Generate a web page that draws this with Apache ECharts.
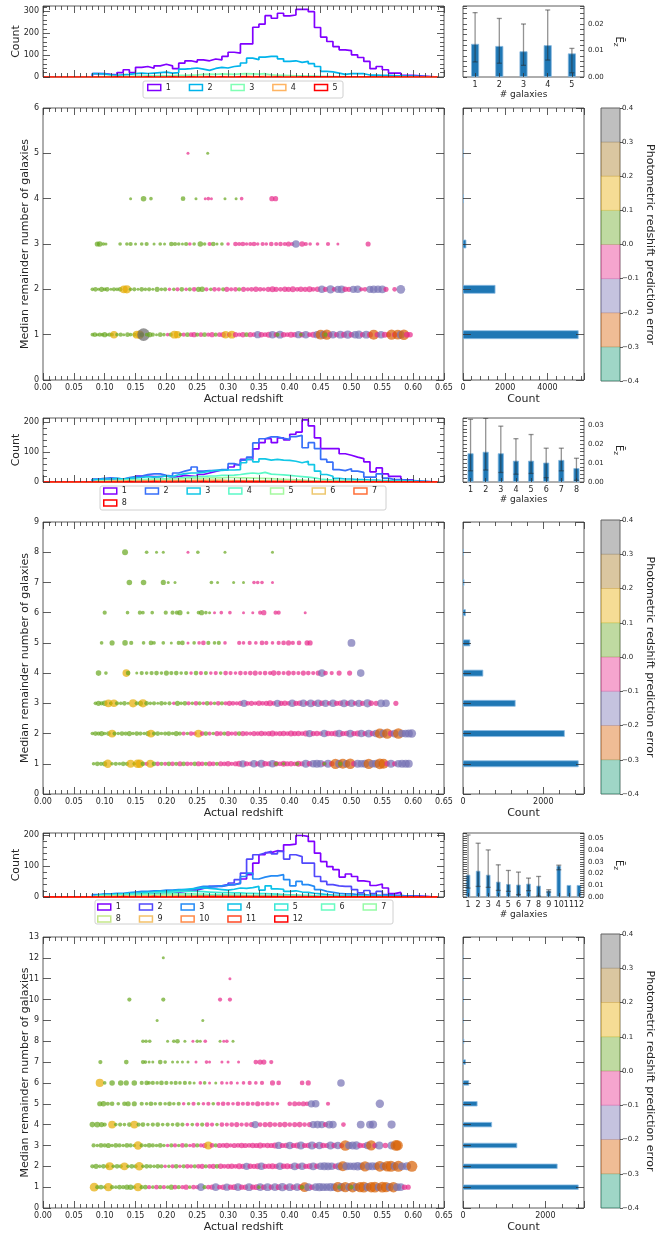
<!DOCTYPE html>
<html>
<head>
<meta charset="utf-8">
<title>Remainder galaxies vs redshift</title>
<script src="https://cdn.jsdelivr.net/npm/echarts@6/dist/echarts.min.js"></script>
<style>
  html, body { margin: 0; padding: 0; background: #fff; }
  #chart { width: 659px; height: 1240px; }
</style>
</head>
<body>
<div id="chart"></div>
<script>
// ---------- data ----------
// histogram bins start at 0.08, width 0.01
const BIN0 = 0.08, BINW = 0.01, HIST_END = 0.64;

// panel 1 : up to 5 galaxies
const p1Colors = ['#8000ff', '#00b4eb', '#80ffb4', '#ffb462', '#ff0000'];
const p1H1 = [15,15,12,10,20,33,20,44,48,40,51,58,51,38,63,74,68,78,74,82,78,94,113,109,151,151,227,241,280,268,291,279,283,309,309,298,226,182,162,139,124,120,101,89,71,38,48,33,18,18,8,8];
const p1H2 = [15,14,10,8,10,12,15,18,16,18,20,22,18,20,36,38,41,36,30,39,44,41,48,51,64,86,79,91,94,94,83,71,74,67,71,61,48,26,23,18,12,15,15,15,9,9,8,8,6,5,4,4];
const p1H3 = [2,2,3,2,3,3,4,4,5,5,6,5,6,7,8,9,10,12,13,12,14,13,12,14,15,14,13,15,10,8,7,6,5,5,4,4,3,3,2,2,2,1,1,1,1,1,0,1];
const p1H4 = [0,0,1,0,0,1,0,1,1,0,1,1,2,1,1,2,1,2,2,1,2,2,1,2,3,2,2,3,2,2,1,2,1,1,1,0,1,1,0,0,1];
const p1H5 = [0,0,0,1,0,0,0,0,1,0,0,0,1,0,0,1,0,0,1,0,1,0,0,1,1,0,1,0,0,1,0,0,0,1];
const p1Ez = [0.0125, 0.0117, 0.0097, 0.0120, 0.0089];
const p1EzLo = [0.0057, 0.0052, 0.0044, 0.0064, 0.0016];
const p1EzHi = [0.0243, 0.0221, 0.0200, 0.0253, 0.0108];
const p1Counts = [5460, 1520, 140, 15, 2];
const p1Row1 = [[0.080,0.03],[0.084,0.05],[0.088,0.02],[0.092,0.04],[0.096,0.03],[0.100,0.06],[0.104,0.02],[0.108,0.04],[0.112,0.03],[0.115,0.13],[0.120,0.03],[0.126,0.04],[0.131,0.02],[0.137,0.05],[0.142,0.03],[0.148,0.04],[0.152,0.14],[0.157,0.16],[0.160,0.05],[0.163,0.36],[0.168,0.03],[0.173,0.06],[0.178,0.04],[0.184,0.02],[0.190,0.05],[0.196,0.03],[0.202,-0.03],[0.207,0.04],[0.213,0.14],[0.218,0.12],[0.223,0.03],[0.228,-0.04],[0.234,0.05],[0.240,-0.05],[0.245,-0.06],[0.250,0.04],[0.256,-0.05],[0.262,0.05],[0.268,-0.04],[0.274,-0.06],[0.280,0.04],[0.286,-0.05],[0.292,-0.07],[0.296,0.13],[0.302,-0.05],[0.306,0.14],[0.312,-0.06],[0.318,-0.04],[0.324,-0.07],[0.330,0.05],[0.336,-0.06],[0.342,-0.05],[0.348,-0.12],[0.354,-0.07],[0.360,-0.05],[0.366,-0.08],[0.372,-0.13],[0.378,-0.06],[0.384,-0.14],[0.390,-0.07],[0.396,-0.05],[0.402,-0.08],[0.408,-0.06],[0.414,-0.12],[0.420,-0.07],[0.426,-0.13],[0.432,-0.05],[0.438,-0.08],[0.444,-0.12],[0.450,-0.22],[0.455,-0.14],[0.460,-0.24],[0.465,-0.07],[0.470,-0.13],[0.476,-0.06],[0.482,-0.14],[0.488,-0.08],[0.494,-0.15],[0.500,-0.07],[0.506,-0.13],[0.512,-0.16],[0.518,-0.06],[0.524,-0.14],[0.530,-0.08],[0.536,-0.23],[0.542,-0.07],[0.548,-0.13],[0.554,-0.08],[0.560,-0.06],[0.565,-0.24],[0.570,-0.07],[0.575,-0.22],[0.580,-0.14],[0.585,-0.25],[0.590,-0.08],[0.595,-0.07],[0.380,0.04],[0.418,0.03],[0.458,0.04]];
const p1Row2 = [[0.080,0.03],[0.085,0.05],[0.090,0.02],[0.095,0.06],[0.100,0.03],[0.104,0.05],[0.110,0.02],[0.115,0.04],[0.120,0.03],[0.125,0.05],[0.131,0.14],[0.136,0.15],[0.142,0.03],[0.148,0.04],[0.154,0.02],[0.160,0.05],[0.166,0.03],[0.172,0.04],[0.178,0.02],[0.185,0.06],[0.192,0.03],[0.198,0.04],[0.205,-0.03],[0.212,0.03],[0.218,-0.04],[0.225,0.05],[0.232,-0.03],[0.238,0.04],[0.245,-0.05],[0.252,0.06],[0.258,0.07],[0.265,-0.04],[0.272,0.03],[0.278,-0.05],[0.285,-0.04],[0.292,0.04],[0.298,-0.06],[0.305,-0.04],[0.312,-0.05],[0.318,0.04],[0.325,-0.06],[0.332,-0.04],[0.338,-0.05],[0.345,-0.07],[0.352,-0.05],[0.358,-0.04],[0.365,-0.06],[0.372,-0.08],[0.378,-0.06],[0.385,-0.05],[0.392,-0.07],[0.398,-0.06],[0.405,-0.08],[0.412,-0.05],[0.418,-0.07],[0.425,-0.06],[0.432,-0.08],[0.438,-0.05],[0.445,-0.07],[0.452,-0.13],[0.458,-0.06],[0.466,-0.16],[0.472,-0.05],[0.478,-0.12],[0.484,-0.14],[0.490,-0.07],[0.496,-0.06],[0.503,-0.12],[0.510,-0.13],[0.516,-0.04],[0.522,-0.05],[0.530,-0.12],[0.536,-0.14],[0.543,-0.13],[0.550,-0.14],[0.556,-0.06],[0.570,-0.05],[0.580,-0.17]];
const p1Row3 = [[0.088,0.06],[0.092,0.07],[0.098,0.03],[0.102,0.02],[0.125,0.03],[0.136,0.03],[0.142,0.04],[0.150,0.02],[0.160,0.03],[0.168,0.04],[0.180,0.02],[0.190,0.03],[0.197,0.02],[0.208,0.05],[0.214,0.04],[0.220,0.03],[0.226,0.02],[0.232,0.04],[0.238,-0.03],[0.245,0.03],[0.255,0.07],[0.262,0.03],[0.270,-0.04],[0.276,0.05],[0.282,0.02],[0.290,0.03],[0.300,-0.03],[0.312,-0.05],[0.318,-0.04],[0.324,-0.05],[0.330,-0.03],[0.336,-0.04],[0.342,-0.05],[0.348,-0.03],[0.356,-0.04],[0.362,-0.03],[0.370,-0.05],[0.378,-0.04],[0.385,-0.05],[0.392,-0.04],[0.398,-0.06],[0.404,-0.04],[0.410,-0.13],[0.420,-0.07],[0.426,-0.04],[0.433,-0.03],[0.445,-0.03],[0.462,-0.04],[0.478,-0.02],[0.527,-0.06]];
const p1Row4 = [[0.142,0.02],[0.163,0.07],[0.175,0.03],[0.227,0.05],[0.248,0.02],[0.263,-0.02],[0.268,-0.03],[0.273,-0.02],[0.295,0.02],[0.313,0.02],[0.322,-0.03],[0.371,-0.06],[0.377,-0.06]];
const p1Row5 = [[0.235,-0.01],[0.267,0.02]];

// panel 2 : up to 8 galaxies
const p2Colors = ['#8000ff', '#376ff9', '#12c7e6', '#5bf9c7', '#a4f99f', '#edc76f', '#ff6f39', '#ff0000'];
const p2H1 = [8,8,8,10,8,10,12,20,20,18,18,20,15,18,22,20,18,25,30,35,40,41,50,58,75,75,110,131,144,131,147,140,159,166,207,187,147,111,111,111,94,89,83,78,67,34,47,27,19,19,7,7];
const p2H2 = [10,12,14,12,10,15,18,20,25,27,27,22,20,30,36,41,50,36,38,38,41,41,61,55,73,83,130,144,150,150,145,142,151,155,114,131,111,75,66,41,38,44,36,32,16,16,27,13,8,8,6,5];
const p2H3 = [8,10,10,12,10,12,14,15,18,16,18,20,18,24,28,30,30,32,36,39,39,40,40,41,64,75,67,77,73,75,73,72,69,64,69,58,36,25,19,12,10,10,8,8,6,6,5,5,4,4,3,3];
const p2H4 = [4,5,5,6,6,7,8,8,9,10,10,11,12,13,15,16,18,18,20,20,22,22,23,25,28,30,28,32,26,25,24,22,20,18,16,14,10,8,6,5,4,4,3,3,2,2,2,1,1,1,1];
const p2H5 = [3,3,4,4,5,5,6,6,7,8,8,9,10,10,11,12,12,13,14,14,14,15,15,14,14,13,12,12,11,10,9,8,7,6,5,4,3,3,2,2,2,1,1,1,1,1];
const p2H6 = [1,1,1,2,2,2,3,3,3,4,4,4,5,5,5,5,6,6,6,6,6,5,5,5,5,4,4,4,3,3,3,2,2,2,1,1,1,1,1];
const p2H7 = [0,0,1,1,1,1,1,2,2,2,2,2,2,3,3,3,3,3,2,2,2,2,2,2,1,1,1,1,1,1,1];
const p2H8 = [0,0,0,0,0,1,0,0,0,1,0,0,0,0,1,0,0,1,0,1,0,0,1];
const p2Ez = [0.0151, 0.0159, 0.0151, 0.0112, 0.0112, 0.0102, 0.0116, 0.0073];
const p2EzLo = [0.0059, 0.0063, 0.0050, 0.0041, 0.0045, 0.0023, 0.0059, 0.0009];
const p2EzHi = [0.0330, 0.0335, 0.0294, 0.0228, 0.0250, 0.0178, 0.0178, 0.0125];
const p2Counts = [2870, 2525, 1300, 495, 170, 60, 25, 10];
const p2Row1 = [[0.082,0.03],[0.088,0.05],[0.094,0.04],[0.100,0.06],[0.105,0.16],[0.112,0.03],[0.118,0.04],[0.124,0.03],[0.130,0.05],[0.136,0.04],[0.142,0.14],[0.148,0.03],[0.153,0.17],[0.157,0.16],[0.162,0.05],[0.168,-0.04],[0.174,0.14],[0.180,0.05],[0.186,-0.05],[0.192,0.04],[0.198,-0.04],[0.204,0.05],[0.210,-0.05],[0.216,0.04],[0.222,-0.06],[0.228,0.05],[0.234,-0.05],[0.240,-0.04],[0.246,0.05],[0.252,-0.06],[0.258,-0.05],[0.264,0.04],[0.270,-0.06],[0.276,-0.05],[0.282,0.04],[0.288,-0.06],[0.294,-0.05],[0.300,-0.07],[0.306,-0.04],[0.312,-0.06],[0.318,-0.08],[0.324,-0.12],[0.330,-0.06],[0.336,-0.05],[0.342,-0.13],[0.348,-0.06],[0.354,-0.14],[0.360,-0.07],[0.366,-0.06],[0.372,-0.13],[0.378,-0.07],[0.384,-0.05],[0.390,-0.08],[0.396,-0.06],[0.402,-0.07],[0.408,-0.05],[0.414,-0.08],[0.420,-0.06],[0.426,-0.14],[0.432,-0.07],[0.438,-0.13],[0.444,-0.15],[0.450,-0.13],[0.456,-0.06],[0.462,-0.14],[0.468,-0.07],[0.474,-0.24],[0.480,-0.14],[0.486,-0.22],[0.492,-0.13],[0.498,-0.25],[0.504,-0.07],[0.510,-0.14],[0.516,-0.13],[0.522,-0.15],[0.528,-0.24],[0.534,-0.13],[0.540,-0.15],[0.546,-0.26],[0.552,-0.23],[0.558,-0.07],[0.564,-0.14],[0.570,-0.06],[0.576,-0.13],[0.582,-0.14],[0.588,-0.15],[0.593,-0.14],[0.378,0.04],[0.390,0.03],[0.412,0.04],[0.456,0.03],[0.482,0.04]];
const p2Row2 = [[0.080,0.03],[0.085,0.05],[0.090,0.04],[0.095,0.06],[0.100,0.03],[0.106,0.05],[0.112,0.14],[0.116,0.04],[0.122,0.03],[0.128,0.05],[0.134,0.04],[0.140,0.06],[0.146,0.03],[0.152,0.05],[0.158,0.04],[0.164,0.03],[0.170,0.06],[0.175,0.14],[0.180,0.04],[0.186,0.05],[0.192,0.03],[0.198,0.04],[0.204,0.05],[0.210,0.03],[0.216,0.06],[0.222,0.04],[0.228,-0.04],[0.234,0.03],[0.240,-0.05],[0.246,-0.04],[0.252,0.14],[0.258,-0.05],[0.264,0.05],[0.270,-0.04],[0.276,0.03],[0.282,-0.06],[0.288,-0.05],[0.294,0.04],[0.300,-0.06],[0.306,-0.04],[0.312,-0.05],[0.318,0.05],[0.324,-0.06],[0.330,-0.05],[0.336,-0.04],[0.342,-0.06],[0.348,-0.05],[0.354,-0.07],[0.360,-0.05],[0.366,-0.06],[0.372,-0.08],[0.378,-0.05],[0.384,-0.06],[0.390,-0.07],[0.396,-0.05],[0.402,-0.08],[0.408,-0.06],[0.414,-0.07],[0.420,-0.05],[0.426,-0.08],[0.432,-0.12],[0.438,-0.06],[0.444,-0.07],[0.450,-0.05],[0.456,-0.13],[0.462,-0.07],[0.468,-0.06],[0.474,-0.08],[0.480,-0.13],[0.486,-0.06],[0.492,-0.07],[0.498,-0.14],[0.504,-0.06],[0.510,-0.08],[0.516,-0.13],[0.522,-0.06],[0.528,-0.14],[0.534,-0.07],[0.540,-0.13],[0.546,-0.23],[0.552,-0.15],[0.558,-0.24],[0.564,-0.08],[0.570,-0.14],[0.576,-0.25],[0.582,-0.13],[0.588,-0.14],[0.593,-0.15],[0.598,-0.16]];
const p2Row3 = [[0.085,0.03],[0.090,0.06],[0.095,0.04],[0.100,0.07],[0.106,0.14],[0.110,0.03],[0.115,0.13],[0.120,0.04],[0.126,0.03],[0.132,0.05],[0.138,0.02],[0.146,0.15],[0.152,0.04],[0.158,0.06],[0.162,0.15],[0.168,0.05],[0.174,0.03],[0.180,0.04],[0.186,0.02],[0.192,0.05],[0.198,0.03],[0.205,0.04],[0.212,-0.03],[0.218,0.06],[0.224,0.03],[0.230,0.05],[0.236,-0.04],[0.242,0.03],[0.248,-0.05],[0.254,0.04],[0.260,-0.03],[0.266,0.05],[0.272,-0.04],[0.278,0.03],[0.284,-0.05],[0.290,0.04],[0.296,-0.04],[0.302,-0.06],[0.308,-0.05],[0.314,-0.04],[0.320,-0.06],[0.326,-0.12],[0.332,-0.05],[0.338,-0.06],[0.344,-0.04],[0.350,-0.07],[0.356,-0.05],[0.362,-0.06],[0.368,-0.08],[0.374,-0.05],[0.380,-0.12],[0.386,-0.06],[0.392,-0.07],[0.398,-0.05],[0.404,-0.13],[0.410,-0.06],[0.416,-0.07],[0.422,-0.13],[0.428,-0.05],[0.434,-0.14],[0.440,-0.06],[0.446,-0.13],[0.452,-0.07],[0.458,-0.12],[0.464,-0.05],[0.470,-0.13],[0.476,-0.06],[0.482,-0.07],[0.488,-0.14],[0.494,-0.06],[0.500,-0.13],[0.506,-0.05],[0.512,-0.12],[0.518,-0.06],[0.526,-0.15],[0.532,-0.07],[0.540,-0.06],[0.548,-0.14],[0.556,-0.13],[0.572,-0.06]];
const p2Row4 = [[0.090,0.07],[0.102,0.03],[0.135,0.13],[0.138,0.05],[0.152,0.02],[0.160,0.04],[0.168,0.03],[0.176,0.04],[0.184,0.05],[0.192,0.03],[0.200,0.06],[0.208,0.04],[0.216,0.05],[0.224,0.03],[0.232,0.04],[0.240,-0.03],[0.248,0.05],[0.256,-0.04],[0.264,0.04],[0.272,-0.03],[0.280,-0.04],[0.288,0.03],[0.296,-0.05],[0.304,-0.04],[0.312,-0.03],[0.320,-0.05],[0.328,-0.04],[0.336,-0.05],[0.344,-0.06],[0.352,-0.04],[0.360,-0.05],[0.368,-0.04],[0.374,-0.07],[0.382,-0.05],[0.390,-0.04],[0.398,-0.06],[0.406,-0.05],[0.414,-0.04],[0.422,-0.06],[0.430,-0.05],[0.438,-0.04],[0.446,-0.06],[0.452,-0.13],[0.458,-0.05],[0.468,-0.04],[0.480,-0.06],[0.497,-0.06],[0.515,-0.13]];
const p2Row5 = [[0.095,0.03],[0.112,0.06],[0.133,0.07],[0.143,0.04],[0.163,0.03],[0.175,0.05],[0.180,0.03],[0.195,0.03],[0.208,0.02],[0.220,0.04],[0.226,0.05],[0.235,-0.02],[0.245,0.03],[0.253,-0.03],[0.260,-0.05],[0.268,0.04],[0.278,0.03],[0.285,0.04],[0.295,-0.03],[0.318,-0.04],[0.325,-0.03],[0.335,-0.04],[0.345,-0.03],[0.355,-0.05],[0.362,-0.04],[0.372,-0.03],[0.382,-0.04],[0.390,-0.05],[0.398,-0.06],[0.405,-0.04],[0.415,-0.05],[0.428,-0.06],[0.433,-0.06],[0.500,-0.14]];
const p2Row6 = [[0.100,0.04],[0.137,0.03],[0.157,0.04],[0.162,0.03],[0.177,0.03],[0.199,0.04],[0.210,0.04],[0.217,0.04],[0.222,0.06],[0.235,0.01],[0.252,0.03],[0.257,0.06],[0.264,0.03],[0.270,0.02],[0.278,-0.02],[0.289,-0.03],[0.303,-0.03],[0.325,-0.02],[0.340,-0.02],[0.352,-0.04],[0.358,-0.06],[0.377,-0.04],[0.382,-0.04],[0.425,-0.01]];
const p2Row7 = [[0.140,0.07],[0.163,0.07],[0.195,0.06],[0.203,0.02],[0.214,0.02],[0.273,0.03],[0.283,0.02],[0.309,0.01],[0.325,0.02],[0.342,-0.03],[0.348,-0.03],[0.355,-0.03],[0.372,-0.02]];
const p2Row8 = [[0.133,0.08],[0.168,0.03],[0.184,0.02],[0.195,0.02],[0.235,-0.02],[0.251,0.03],[0.295,0.01],[0.372,0.01]];

// panel 3 : up to 12 galaxies
const p3Colors = ['#8000ff', '#5148fc', '#238af5', '#0cc1e8', '#3ae8d6', '#68fcc1', '#97fca7', '#c5e88a', '#f3c16a', '#ff8a48', '#ff4824', '#ff0000'];
const p3H1 = [5,6,6,5,7,8,8,10,10,12,12,14,14,15,18,20,22,28,34,34,36,40,40,45,58,72,109,136,143,149,147,168,170,198,195,179,141,114,98,88,64,74,66,52,49,37,42,29,11,15,4,4];
const p3H2 = [6,8,8,9,8,10,10,12,14,14,16,18,18,20,22,24,26,28,32,34,34,38,45,56,77,122,136,141,147,139,147,122,136,130,109,109,66,50,40,36,34,34,24,13,21,11,18,8,6,5,3,3];
const p3H3 = [8,10,10,12,12,14,16,18,18,20,20,22,22,24,24,24,30,34,34,34,36,38,40,43,66,77,58,64,68,68,72,56,36,50,40,34,24,18,15,12,10,10,8,8,6,6,5,5,4,3,2,2];
const p3H4 = [6,8,8,10,10,12,12,14,15,16,18,18,20,22,24,26,28,30,28,26,24,22,25,29,28,30,34,22,36,26,25,18,20,16,15,12,10,8,6,5,4,4,3,3,2,2,2,1,1,1];
const p3H5 = [5,6,6,7,8,9,10,11,12,13,14,15,16,17,18,18,18,17,16,15,14,14,13,13,12,12,11,11,10,9,8,7,6,5,5,4,3,3,2,2,1,1,1,1,1];
const p3H6 = [3,4,4,5,5,6,6,7,8,8,9,9,10,10,10,10,9,9,8,8,7,7,6,6,5,5,5,4,4,3,3,3,2,2,2,1,1,1,1];
const p3H7 = [2,2,3,3,3,4,4,4,5,5,5,6,6,6,6,5,5,5,4,4,4,3,3,3,3,2,2,2,2,1,1,1,1,1];
const p3H8 = [1,1,1,2,2,2,2,3,3,3,3,3,3,2,2,2,2,2,2,1,1,1,1,1,1,1,0,1,0,1];
const p3H9 = [0,1,1,1,1,1,2,1,1,2,2,1,1,1,1,1,1,1,0,1,0,1,0,0,1];
const p3H10 = [0,0,1,0,1,1,0,1,1,1,1,0,1,1,0,1,0,0,1];
const p3H11 = [0,0,0,1,0,0,1,0,0,1,0,0,0,1];
const p3H12 = [0,0,0,0,1,0,0,0,0,1,0,0,0,0,0,0,1];
const p3Ez = [0.0189, 0.0223, 0.0189, 0.0130, 0.0110, 0.0105, 0.0113, 0.0096, 0.0054, 0.0266, 0.0102, 0.0102];
const p3EzLo = [0.0076, 0.0090, 0.0082, 0.0056, 0.0048, 0.0020, 0.0054, 0.0006, 0.0042, 0.0232, null, null];
const p3EzHi = [0.0528, 0.0458, 0.0401, 0.0274, 0.0226, 0.0212, 0.0161, 0.0175, 0.0062, 0.0271, null, null];
const p3Counts = [2800, 2288, 1308, 696, 343, 140, 59, 20, 4, 6, 2, 1];
const p3Row1 = [[0.083,0.18],[0.088,0.04],[0.094,0.05],[0.100,0.03],[0.106,0.15],[0.112,0.04],[0.118,0.03],[0.124,0.05],[0.130,0.04],[0.136,0.06],[0.142,0.07],[0.148,0.03],[0.154,0.15],[0.160,0.04],[0.166,0.05],[0.172,-0.04],[0.178,0.03],[0.184,-0.05],[0.190,0.04],[0.196,-0.04],[0.202,0.03],[0.208,0.06],[0.214,-0.05],[0.220,0.04],[0.226,-0.04],[0.232,-0.06],[0.238,0.03],[0.244,-0.05],[0.250,-0.04],[0.256,-0.13],[0.262,0.04],[0.268,-0.05],[0.274,-0.06],[0.280,-0.13],[0.286,-0.05],[0.292,-0.07],[0.298,-0.12],[0.304,-0.06],[0.310,-0.08],[0.316,-0.13],[0.322,-0.06],[0.328,-0.07],[0.334,-0.14],[0.340,-0.06],[0.346,-0.08],[0.352,-0.13],[0.358,-0.07],[0.364,-0.14],[0.370,-0.06],[0.376,-0.13],[0.382,-0.08],[0.388,-0.15],[0.394,-0.06],[0.400,-0.14],[0.406,-0.07],[0.412,-0.13],[0.418,-0.08],[0.424,-0.22],[0.430,-0.14],[0.436,-0.07],[0.442,-0.13],[0.448,-0.15],[0.454,-0.14],[0.460,-0.13],[0.466,-0.16],[0.472,-0.14],[0.478,-0.23],[0.484,-0.15],[0.490,-0.24],[0.496,-0.13],[0.502,-0.25],[0.508,-0.14],[0.514,-0.24],[0.520,-0.26],[0.526,-0.15],[0.532,-0.25],[0.538,-0.27],[0.544,-0.14],[0.550,-0.26],[0.556,-0.24],[0.562,-0.15],[0.568,-0.25],[0.574,-0.14],[0.580,-0.13],[0.586,-0.07],[0.592,-0.06],[0.350,0.03],[0.420,0.04],[0.480,0.03],[0.500,0.04]];
const p3Row2 = [[0.080,0.04],[0.086,0.06],[0.092,0.03],[0.098,0.05],[0.104,0.04],[0.108,0.15],[0.114,0.03],[0.120,0.05],[0.126,0.04],[0.132,0.14],[0.138,0.03],[0.144,0.05],[0.150,0.04],[0.156,0.16],[0.162,0.03],[0.168,0.05],[0.174,0.04],[0.180,0.03],[0.186,0.05],[0.192,0.04],[0.198,-0.03],[0.204,0.03],[0.210,-0.04],[0.216,0.05],[0.222,-0.03],[0.228,0.04],[0.234,-0.05],[0.240,-0.04],[0.246,0.04],[0.252,-0.05],[0.258,-0.06],[0.264,0.04],[0.270,-0.05],[0.276,-0.06],[0.282,0.05],[0.288,-0.07],[0.294,-0.05],[0.300,-0.06],[0.306,-0.07],[0.312,-0.05],[0.318,-0.08],[0.324,-0.06],[0.330,-0.12],[0.336,-0.07],[0.342,-0.06],[0.348,-0.08],[0.354,-0.13],[0.360,-0.06],[0.366,-0.07],[0.372,-0.08],[0.378,-0.06],[0.384,-0.13],[0.390,-0.07],[0.396,-0.08],[0.402,-0.06],[0.408,-0.14],[0.414,-0.07],[0.420,-0.13],[0.426,-0.06],[0.432,-0.08],[0.438,-0.14],[0.444,-0.07],[0.450,-0.13],[0.456,-0.15],[0.462,-0.14],[0.468,-0.13],[0.474,-0.07],[0.480,-0.14],[0.486,-0.23],[0.492,-0.15],[0.498,-0.13],[0.504,-0.14],[0.510,-0.16],[0.516,-0.13],[0.522,-0.24],[0.528,-0.14],[0.534,-0.15],[0.540,-0.13],[0.546,-0.26],[0.552,-0.14],[0.558,-0.25],[0.564,-0.27],[0.570,-0.15],[0.576,-0.28],[0.582,-0.14],[0.590,-0.15],[0.598,-0.27]];
const p3Row3 = [[0.082,0.04],[0.088,0.03],[0.094,0.05],[0.100,0.04],[0.106,0.06],[0.112,0.03],[0.118,0.05],[0.124,0.04],[0.130,0.03],[0.136,0.05],[0.142,0.04],[0.148,0.03],[0.154,0.16],[0.160,0.04],[0.166,0.03],[0.172,0.05],[0.178,0.04],[0.184,0.03],[0.190,0.05],[0.196,0.03],[0.202,-0.03],[0.208,0.04],[0.214,-0.04],[0.220,0.03],[0.226,-0.05],[0.232,0.04],[0.238,-0.03],[0.244,-0.05],[0.250,0.04],[0.256,-0.04],[0.262,-0.06],[0.268,0.15],[0.274,-0.05],[0.280,0.04],[0.286,-0.06],[0.292,-0.05],[0.298,-0.07],[0.304,-0.04],[0.310,-0.06],[0.316,-0.05],[0.322,-0.07],[0.328,-0.06],[0.334,-0.05],[0.340,-0.07],[0.346,-0.06],[0.352,-0.08],[0.358,-0.05],[0.364,-0.07],[0.370,-0.06],[0.376,-0.08],[0.382,-0.12],[0.388,-0.06],[0.394,-0.07],[0.400,-0.13],[0.406,-0.06],[0.412,-0.08],[0.418,-0.14],[0.424,-0.06],[0.430,-0.07],[0.436,-0.15],[0.442,-0.06],[0.448,-0.13],[0.454,-0.07],[0.460,-0.06],[0.466,-0.14],[0.472,-0.07],[0.478,-0.13],[0.484,-0.06],[0.490,-0.25],[0.496,-0.13],[0.502,-0.14],[0.508,-0.16],[0.514,-0.07],[0.520,-0.06],[0.526,-0.13],[0.532,-0.24],[0.538,-0.06],[0.545,-0.15],[0.555,-0.07],[0.565,-0.14],[0.572,-0.26],[0.575,-0.24]];
const p3Row4 = [[0.080,0.07],[0.088,0.08],[0.095,0.06],[0.100,0.04],[0.112,0.14],[0.118,0.03],[0.125,0.04],[0.132,0.03],[0.140,0.05],[0.148,0.14],[0.155,0.04],[0.162,0.05],[0.170,0.03],[0.178,0.04],[0.186,0.05],[0.194,0.03],[0.202,0.04],[0.210,0.03],[0.218,0.05],[0.226,0.04],[0.234,-0.03],[0.242,0.03],[0.250,-0.04],[0.258,0.04],[0.266,-0.05],[0.274,-0.04],[0.282,0.03],[0.290,-0.05],[0.298,-0.04],[0.306,-0.05],[0.314,-0.06],[0.322,-0.04],[0.330,-0.05],[0.338,-0.06],[0.344,-0.12],[0.352,-0.05],[0.360,-0.06],[0.368,-0.07],[0.376,-0.05],[0.384,-0.06],[0.392,-0.07],[0.400,-0.05],[0.408,-0.06],[0.416,-0.07],[0.424,-0.05],[0.432,-0.06],[0.438,-0.12],[0.445,-0.13],[0.452,-0.12],[0.458,-0.06],[0.464,-0.14],[0.470,-0.13],[0.487,-0.05],[0.515,-0.14],[0.530,-0.14],[0.535,-0.15],[0.565,-0.15]];
const p3Row5 = [[0.092,0.06],[0.098,0.07],[0.105,0.04],[0.112,0.05],[0.122,0.03],[0.132,0.05],[0.138,0.06],[0.148,0.06],[0.160,0.04],[0.168,0.03],[0.175,0.05],[0.182,0.03],[0.190,0.04],[0.198,0.03],[0.205,0.05],[0.212,0.03],[0.220,0.04],[0.228,-0.03],[0.236,0.03],[0.244,-0.04],[0.252,0.03],[0.260,-0.03],[0.268,-0.04],[0.276,0.03],[0.284,-0.04],[0.292,-0.05],[0.300,-0.04],[0.308,-0.03],[0.316,-0.05],[0.324,-0.04],[0.332,-0.05],[0.340,-0.04],[0.348,-0.06],[0.356,-0.04],[0.364,-0.05],[0.372,-0.04],[0.380,-0.03],[0.400,-0.05],[0.408,-0.06],[0.415,-0.05],[0.422,-0.06],[0.428,-0.05],[0.435,-0.12],[0.442,-0.13],[0.462,-0.04],[0.546,-0.16]];
const p3Row6 = [[0.092,0.15],[0.100,0.03],[0.112,0.07],[0.126,0.07],[0.135,0.06],[0.148,0.07],[0.160,0.04],[0.168,0.05],[0.172,0.03],[0.178,0.04],[0.185,0.03],[0.192,0.05],[0.200,0.04],[0.208,0.03],[0.215,0.04],[0.222,0.03],[0.230,0.04],[0.238,0.03],[0.245,0.02],[0.255,-0.03],[0.262,0.03],[0.270,-0.02],[0.280,0.02],[0.290,-0.03],[0.298,-0.02],[0.305,-0.03],[0.315,-0.02],[0.325,-0.03],[0.335,-0.04],[0.345,-0.03],[0.355,-0.04],[0.372,-0.06],[0.382,-0.05],[0.420,-0.05],[0.430,-0.06],[0.483,-0.13]];
const p3Row7 = [[0.093,0.04],[0.135,0.05],[0.162,0.04],[0.166,0.03],[0.172,0.02],[0.178,0.02],[0.190,0.05],[0.198,0.03],[0.210,0.02],[0.218,0.02],[0.226,0.02],[0.235,0.02],[0.248,-0.02],[0.265,-0.03],[0.270,-0.02],[0.290,-0.02],[0.300,-0.02],[0.317,-0.02],[0.345,-0.05],[0.352,-0.06],[0.358,-0.06],[0.370,-0.04]];
const p3Row8 = [[0.162,0.03],[0.167,0.03],[0.173,0.03],[0.202,0.02],[0.212,0.03],[0.218,0.05],[0.230,0.01],[0.243,-0.02],[0.250,0.03],[0.255,0.02],[0.263,-0.03],[0.287,0.02],[0.293,-0.02],[0.298,-0.03],[0.308,0.01]];
const p3Row9 = [[0.185,0.01],[0.259,0.01]];
const p3Row10 = [[0.140,0.04],[0.195,0.04],[0.287,-0.04],[0.303,-0.04]];
const p3Row11 = [[0.303,-0.01]];
const p3Row12 = [[0.195,0.02]];

// colour bar of the prediction error (Dark2, 8 bins of 0.1)
const errEdges = [-0.4, -0.3, -0.2, -0.1, 0.0, 0.1, 0.2, 0.3, 0.4];
const DARK2 = ['#1b9e77', '#d95f02', '#7570b3', '#e7298a', '#66a61e', '#e6ab02', '#a6761d', '#666666'];

// ---------- assemble ----------
const panels = [
  { colors: p1Colors, hist: [p1H1, p1H2, p1H3, p1H4, p1H5], ez: p1Ez, lo: p1EzLo, hi: p1EzHi, counts: p1Counts,
    rows: [p1Row1, p1Row2, p1Row3, p1Row4, p1Row5] },
  { colors: p2Colors, hist: [p2H1, p2H2, p2H3, p2H4, p2H5, p2H6, p2H7, p2H8], ez: p2Ez, lo: p2EzLo, hi: p2EzHi, counts: p2Counts,
    rows: [p2Row1, p2Row2, p2Row3, p2Row4, p2Row5, p2Row6, p2Row7, p2Row8] },
  { colors: p3Colors, hist: [p3H1, p3H2, p3H3, p3H4, p3H5, p3H6, p3H7, p3H8, p3H9, p3H10, p3H11, p3H12], ez: p3Ez, lo: p3EzLo, hi: p3EzHi, counts: p3Counts,
    rows: [p3Row1, p3Row2, p3Row3, p3Row4, p3Row5, p3Row6, p3Row7, p3Row8, p3Row9, p3Row10, p3Row11, p3Row12] }
];

// layout boxes [left, top, width, height] and axis ranges
const LAYOUT = [
  { hist: [43, 6, 401, 71], ez: [463, 6, 121, 71], sc: [43, 108, 401, 272], hb: [463, 108, 121, 272], cb: [601, 108, 19, 273],
    frame: [143, 81, 200, 17], legX: 147, legTop: 82.5, histMax: 324, ezMax: 0.0268, ezBarW: 8, hbMax: 5735, hbH: 8, yMax: 6 },
  { hist: [43, 418, 401, 64], ez: [463, 418, 121, 64], sc: [43, 522, 401, 272], hb: [463, 522, 121, 272], cb: [601, 520, 19, 274],
    frame: [100, 486, 286, 24], legX: 103, legTop: 486, histMax: 213, ezMax: 0.0337, ezBarW: 6, hbMax: 3014, hbH: 6, yMax: 9 },
  { hist: [43, 833, 401, 64], ez: [463, 833, 121, 64], sc: [43, 937, 401, 271], hb: [463, 937, 121, 271], cb: [601, 934, 19, 274],
    frame: [95, 900, 298, 24], legX: 97, legTop: 902, histMax: 206, ezMax: 0.0545, ezBarW: 4.5, hbMax: 2940, hbH: 4.5, yMax: 13 }
];

const FONT = 'DejaVu Sans';
const TXT = '#262626';
const grids = [], xAxes = [], yAxes = [], series = [], legends = [], graphics = [];

function addGrid(r, border) {
  grids.push({ left: r[0], top: r[1], width: r[2], height: r[3], show: true,
    borderColor: border || '#333', borderWidth: 0.8, backgroundColor: 'transparent' });
  return grids.length - 1;
}

function mkAxis(gi, o) {
  const cat = o.type === 'category';
  return {
    type: o.type || 'value', gridIndex: gi, position: o.pos, z: 5,
    min: o.min, max: o.max, interval: o.interval, data: o.data,
    boundaryGap: cat ? true : undefined,
    splitLine: { show: false },
    axisLine: { show: false, onZero: false },
    axisTick: { show: true, inside: o.out ? false : true, length: o.tickLen || 7, alignWithLabel: true,
      interval: cat ? 0 : 'auto', lineStyle: { color: '#333', width: 0.8 } },
    minorTick: { show: !!o.minor, splitNumber: o.minor || 5, length: 4, lineStyle: { color: '#333', width: 0.8 } },
    axisLabel: { show: !!o.label, fontFamily: FONT, fontSize: o.labelSize || 8, color: TXT, margin: o.margin || 4,
      formatter: o.fmt, showMaxLabel: o.showMax, hideOverlap: false, interval: cat ? 0 : 'auto' },
    name: o.name, nameLocation: 'middle', nameGap: o.nameGap, nameRotate: o.nameRotate,
    nameMoveOverlap: o.noMove ? false : true,
    nameTextStyle: { fontFamily: FONT, fontSize: o.nameSize || 11, color: TXT, rich: o.rich }
  };
}
function pushX(a) { xAxes.push(a); return xAxes.length - 1; }
function pushY(a) { yAxes.push(a); return yAxes.length - 1; }

function stepPoints(counts) {
  const pts = [[0, 0]];
  counts.forEach((c, i) => pts.push([+(BIN0 + i * BINW).toFixed(3), c]));
  pts.push([+(BIN0 + counts.length * BINW).toFixed(3), 0]);
  pts.push([HIST_END, 0]);
  return pts;
}

function errIndex(e) {
  for (let i = 0; i < DARK2.length; i++) if (e < errEdges[i + 1]) return i;
  return DARK2.length - 1;
}

function errBar(params, api) {
  const lo = api.coord([api.value(0), api.value(1)]);
  const hi = api.coord([api.value(0), api.value(2)]);
  const c = 2.5;
  const st = { stroke: 'rgba(40,40,40,0.5)', lineWidth: 1.3 };
  return { type: 'group', children: [
    { type: 'line', shape: { x1: lo[0], y1: lo[1], x2: hi[0], y2: hi[1] }, style: st },
    { type: 'line', shape: { x1: lo[0] - c, y1: lo[1], x2: lo[0] + c, y2: lo[1] }, style: st },
    { type: 'line', shape: { x1: hi[0] - c, y1: hi[1], x2: hi[0] + c, y2: hi[1] }, style: st }
  ] };
}

const fmtErr = v => (v < -1e-9 ? '\u2212' : '') + Math.abs(v).toFixed(1);

panels.forEach((P, pi) => {
  const Lo = LAYOUT[pi];

  // redshift histograms, one step line per galaxy count
  const gh = addGrid(Lo.hist);
  const hx = pushX(mkAxis(gh, { min: 0, max: 0.65, interval: 0.05, minor: 5, pos: 'bottom' }));
  pushX(mkAxis(gh, { min: 0, max: 0.65, interval: 0.05, minor: 5, pos: 'top' }));
  const hy = pushY(mkAxis(gh, { min: 0, max: Lo.histMax, interval: 100, minor: 5, pos: 'left', label: true, showMax: false,
    name: 'Count', nameGap: 21, nameRotate: 90, noMove: true }));
  pushY(mkAxis(gh, { min: 0, max: Lo.histMax, interval: 100, minor: 5, pos: 'right' }));
  P.hist.forEach((counts, k) => {
    series.push({ type: 'line', name: 'p' + pi + '_' + (k + 1), xAxisIndex: hx, yAxisIndex: hy, step: 'end',
      showSymbol: false, symbol: 'none', data: stepPoints(counts),
      lineStyle: { color: P.colors[k], width: 1.7 }, itemStyle: { color: P.colors[k] } });
  });

  // legend columns
  let colX = Lo.legX;
  const n = P.colors.length;
  for (let c = 0; c < Math.min(7, n); c++) {
    const idx = [];
    for (let k = c; k < n; k += 7) idx.push(k);
    const maxLen = Math.max(...idx.map(k => String(k + 1).length));
    legends.push({ orient: 'vertical', left: colX, top: Lo.legTop, padding: 0, itemGap: 2, itemWidth: 13, itemHeight: 6,
      selectedMode: false, formatter: nm => nm.split('_')[1],
      textStyle: { fontFamily: FONT, fontSize: 8, color: TXT, lineHeight: 10 },
      data: idx.map(k => ({ name: 'p' + pi + '_' + (k + 1), icon: 'rect',
        itemStyle: { color: 'rgba(0,0,0,0)', borderColor: P.colors[k], borderWidth: 1.5 } })) });
    colX += 13 + 5 + maxLen * 5.1 + 18.6;
  }
  graphics.push({ type: 'rect', z: 1, silent: true,
    shape: { x: Lo.frame[0], y: Lo.frame[1], width: Lo.frame[2], height: Lo.frame[3], r: 2 },
    style: { fill: '#fff', stroke: '#d0d0d0', lineWidth: 1 } });

  // mean error per galaxy count
  const ge = addGrid(Lo.ez);
  const ex = pushX(mkAxis(ge, { type: 'category', data: P.ez.map((_, i) => String(i + 1)), label: true, labelSize: 8,
    tickLen: 4, name: '# galaxies', nameGap: 13, nameSize: 9 }));
  const ey = pushY(mkAxis(ge, { min: 0, max: Lo.ezMax, interval: 0.01, minor: 5, pos: 'right', label: true, labelSize: 7,
    fmt: v => v.toFixed(2), showMax: false, tickLen: 4, name: '{e|\u0112}{z|z}', nameGap: 28, nameRotate: -90,
    rich: { e: { fontFamily: FONT, fontSize: 10, color: TXT }, z: { fontFamily: FONT, fontSize: 7, color: TXT, padding: [6, 0, 0, 0] } } }));
  pushY(mkAxis(ge, { min: 0, max: Lo.ezMax, interval: 0.01, minor: 5, pos: 'left', tickLen: 4 }));
  series.push({ type: 'bar', xAxisIndex: ex, yAxisIndex: ey, data: P.ez, barWidth: Lo.ezBarW,
    itemStyle: { color: '#1f77b4', borderColor: '#86b8de', borderWidth: 0.8 } });
  series.push({ type: 'custom', xAxisIndex: ex, yAxisIndex: ey, clip: true, renderItem: errBar, z: 3,
    data: P.ez.map((v, i) => [i, P.lo[i], P.hi[i]]).filter(d => d[1] != null) });

  // scatter of remaining galaxies vs redshift, coloured by error
  const gs = addGrid(Lo.sc);
  const sx = pushX(mkAxis(gs, { min: 0, max: 0.65, interval: 0.05, minor: 5, pos: 'bottom', label: true,
    fmt: v => v.toFixed(2), name: 'Actual redshift', nameGap: 14 }));
  pushX(mkAxis(gs, { min: 0, max: 0.65, interval: 0.05, minor: 5, pos: 'top' }));
  const sy = pushY(mkAxis(gs, { min: 0, max: Lo.yMax, interval: 1, pos: 'left', label: true, tickLen: 8,
    name: 'Median remainder number of galaxies', nameGap: 12, nameRotate: 90, noMove: true }));
  pushY(mkAxis(gs, { min: 0, max: Lo.yMax, interval: 1, pos: 'right', tickLen: 8 }));
  const pts = [];
  P.rows.forEach((row, r) => row.forEach(p => pts.push([p[0], r + 1, p[1]])));
  series.push({ type: 'scatter', xAxisIndex: sx, yAxisIndex: sy, data: pts,
    symbolSize: v => Math.max(3, 21 * Math.sqrt(Math.abs(v[2]))),
    itemStyle: { color: p => DARK2[errIndex(p.value[2])], opacity: 0.7 } });

  // number of fields per remaining-galaxy count
  const gb = addGrid(Lo.hb);
  const bx = pushX(mkAxis(gb, { min: 0, max: Lo.hbMax, interval: 2000, minor: 5, pos: 'bottom', label: true,
    showMax: false, fmt: v => String(v), name: 'Count', nameGap: 14 }));
  pushX(mkAxis(gb, { min: 0, max: Lo.hbMax, interval: 2000, minor: 5, pos: 'top' }));
  const by = pushY(mkAxis(gb, { min: 0, max: Lo.yMax, interval: 1, pos: 'left', tickLen: 8 }));
  pushY(mkAxis(gb, { min: 0, max: Lo.yMax, interval: 1, pos: 'right', tickLen: 8 }));
  const barH = Lo.hbH;
  series.push({ type: 'custom', xAxisIndex: bx, yAxisIndex: by, clip: true,
    data: P.counts.map((c, i) => [c, i + 1]),
    renderItem: (params, api) => {
      const a = api.coord([0, api.value(1)]);
      const b = api.coord([api.value(0), api.value(1)]);
      return { type: 'rect', shape: { x: a[0], y: a[1] - barH / 2, width: b[0] - a[0], height: barH },
        style: { fill: '#1f77b4', stroke: '#8dbde3', lineWidth: 0.8 } };
    } });

  // colour bar
  const gc = addGrid(Lo.cb, '#555');
  const cx = pushX({ type: 'value', gridIndex: gc, min: 0, max: 1, show: false });
  const cy = pushY(mkAxis(gc, { min: -0.4, max: 0.4, interval: 0.1, pos: 'right', label: true, labelSize: 7, out: true,
    tickLen: 3, margin: 2, fmt: fmtErr, name: 'Photometric redshift prediction error', nameGap: 24, nameRotate: -90 }));
  series.push({ type: 'custom', xAxisIndex: cx, yAxisIndex: cy, z: 1,
    data: DARK2.map((c, i) => [errEdges[i], errEdges[i + 1], i]),
    renderItem: (params, api) => {
      const a = api.coord([0, api.value(1)]);
      const b = api.coord([1, api.value(0)]);
      return { type: 'rect', shape: { x: a[0], y: a[1], width: b[0] - a[0], height: b[1] - a[1] },
        style: { fill: DARK2[api.value(2)], opacity: 0.42, stroke: DARK2[api.value(2)], lineWidth: 0.5 } };
    } });
});

const chart = echarts.init(document.getElementById('chart'), null, { renderer: 'canvas' });
chart.setOption({
  animation: false,
  backgroundColor: '#fff',
  textStyle: { fontFamily: FONT },
  grid: grids,
  xAxis: xAxes,
  yAxis: yAxes,
  legend: legends,
  graphic: { elements: graphics },
  series: series
});
</script>
</body>
</html>
